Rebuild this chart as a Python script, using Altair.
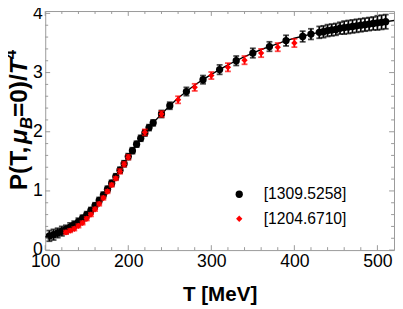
import altair as alt
import pandas as pd

# ---------------- data ----------------
series_names = ["[1309.5258]", "[1204.6710]"]
series_colors = ["black", "#ff0000"]

bl_T = [105, 110, 115, 120, 125, 130, 135, 140, 145, 150, 155, 160, 165, 170, 175,
        180, 185, 190, 195, 200, 205, 210, 215, 220, 225, 230, 240, 250, 270, 290,
        310, 330, 350, 370, 390, 410, 420, 430, 435, 440, 445, 450, 455, 460, 465,
        470, 475, 480, 485, 490, 495, 500, 505, 510]
bl_P = [0.24, 0.26, 0.29, 0.32, 0.35, 0.39, 0.43, 0.48, 0.54, 0.60, 0.67, 0.75, 0.84, 0.93, 1.03,
        1.13, 1.24, 1.35, 1.46, 1.58, 1.68, 1.79, 1.89, 1.98, 2.07, 2.15, 2.30, 2.44, 2.68, 2.88,
        3.05, 3.20, 3.33, 3.44, 3.54, 3.61, 3.65, 3.68, 3.69, 3.71, 3.72, 3.73, 3.75, 3.76, 3.77,
        3.78, 3.79, 3.80, 3.81, 3.82, 3.83, 3.84, 3.85, 3.86]
bl_E = [0.09, 0.09, 0.08, 0.08, 0.07, 0.07, 0.06, 0.06, 0.05, 0.05, 0.05, 0.05, 0.05, 0.05, 0.05,
        0.05, 0.05, 0.05, 0.05, 0.05, 0.05, 0.05, 0.05, 0.05, 0.05, 0.05, 0.06, 0.06, 0.07, 0.07,
        0.08, 0.08, 0.08, 0.08, 0.09, 0.09, 0.09, 0.10, 0.10, 0.10, 0.10, 0.10, 0.10, 0.11, 0.11,
        0.11, 0.11, 0.11, 0.11, 0.11, 0.11, 0.12, 0.12, 0.12]

rd_T = [125, 130, 135, 140, 145, 150, 155, 160, 165, 170, 175, 180, 185, 190, 195,
        200, 220, 240, 260, 280, 300, 320, 340, 360, 380, 400]
rd_P = [0.30, 0.33, 0.36, 0.41, 0.46, 0.53, 0.60, 0.69, 0.78, 0.88, 0.99, 1.10, 1.21, 1.33, 1.45,
        1.57, 1.99, 2.30, 2.54, 2.75, 2.95, 3.09, 3.21, 3.33, 3.43, 3.50]
rd_E = [0.03, 0.03, 0.03, 0.03, 0.03, 0.03, 0.03, 0.03, 0.03, 0.03, 0.03, 0.03, 0.03, 0.04, 0.04,
        0.04, 0.05, 0.05, 0.06, 0.06, 0.06, 0.07, 0.07, 0.07, 0.07, 0.07]

fit_T = [100, 110, 120, 130, 140, 150, 160, 170, 180, 190, 200, 210, 220, 230, 240, 250,
         260, 270, 280, 290, 300, 310, 320, 330, 340, 350, 360, 370, 380, 390, 400,
         420, 440, 460, 480, 500, 520]
fit_P = [0.22, 0.26, 0.31, 0.37, 0.46, 0.59, 0.75, 0.93, 1.13, 1.35, 1.58, 1.79, 1.98, 2.15, 2.30, 2.44,
         2.57, 2.68, 2.79, 2.88, 2.97, 3.05, 3.13, 3.20, 3.27, 3.33, 3.39, 3.44, 3.49, 3.54, 3.58,
         3.65, 3.71, 3.76, 3.80, 3.84, 3.88]

x_major = [100, 200, 300, 400, 500]
x_minor = [120, 140, 160, 180, 220, 240, 260, 280, 320, 340, 360, 380, 420, 440, 460, 480]
y_major = [0, 1, 2, 3, 4]
y_minor = [0.2, 0.4, 0.6, 0.8, 1.2, 1.4, 1.6, 1.8, 2.2, 2.4, 2.6, 2.8, 3.2, 3.4, 3.6, 3.8]

x_title = "T [MeV]"
y_title_pieces = ["P(T,", "\u03bc", "B", "=0)/", "T", "4"]

# ---------------- chart ----------------
W, H = 356, 244
FONT = "Liberation Sans"
FRAME = "#999999"

xs = alt.Scale(domain=[100, 520], nice=False, zero=False)
ys = alt.Scale(domain=[0, 4.04], nice=False, zero=False)
cscale = alt.Scale(domain=series_names, range=series_colors)
sscale = alt.Scale(domain=series_names, range=["circle", "diamond"])
zscale = alt.Scale(domain=series_names, range=[55, 42])

legend = alt.Legend(orient="none", legendX=190, legendY=179, title=None,
                    labelFontSize=16, labelFont=FONT, labelColor="black",
                    labelOffset=17, rowPadding=9, padding=0, symbolSize=40,
                    symbolStrokeWidth=0)

fit_df = pd.DataFrame({"T": fit_T, "P": fit_P})
fit = alt.Chart(fit_df).mark_line(color="black", strokeWidth=1.4).encode(
    x=alt.X("T:Q", scale=xs,
            axis=alt.Axis(values=x_major, format="d", ticks=False, tickSize=0, domain=False, grid=False,
                          labelFontSize=18, labelFont=FONT, labelColor="black", labelPadding=3,
                          labelFlush=False, title=x_title, titleFont=FONT, titleFontSize=21,
                          titleFontWeight="bold", titleColor="black", titleBaseline="alphabetic",
                          titleY=51, titleX=178)),
    y=alt.Y("P:Q", scale=ys,
            axis=alt.Axis(values=y_major, format="d", ticks=False, tickSize=0, domain=False, grid=False,
                          labelFontSize=18, labelFont=FONT, labelColor="black", labelPadding=3,
                          labelFlush=False, title=None)),
)


def series(Ts, Ps, Es, name, colr):
    df = pd.DataFrame({"T": Ts, "P": Ps,
                       "lo": [p - e for p, e in zip(Ps, Es)],
                       "hi": [p + e for p, e in zip(Ps, Es)],
                       "src": [name] * len(Ts)})
    base = alt.Chart(df).encode(x=alt.X("T:Q", scale=xs))
    err = base.mark_rule(strokeWidth=1.8, color=colr).encode(y=alt.Y("lo:Q", scale=ys), y2="hi:Q")
    cap1 = base.mark_tick(orient="horizontal", size=6, thickness=1.8, color=colr).encode(
        y=alt.Y("lo:Q", scale=ys))
    cap2 = base.mark_tick(orient="horizontal", size=6, thickness=1.8, color=colr).encode(
        y=alt.Y("hi:Q", scale=ys))
    dots = base.mark_point(filled=True, opacity=1).encode(
        y=alt.Y("P:Q", scale=ys),
        color=alt.Color("src:N", scale=cscale, legend=legend),
        shape=alt.Shape("src:N", scale=sscale, legend=legend),
        size=alt.Size("src:N", scale=zscale, legend=None),
    )
    return [err, cap1, cap2, dots]


layers = [fit] + series(bl_T, bl_P, bl_E, series_names[0], series_colors[0]) \
    + series(rd_T, rd_P, rd_E, series_names[1], series_colors[1])

# frame ticks (inward)
xmaj_df = pd.DataFrame({"T": x_major})
xmin_df = pd.DataFrame({"T": x_minor})
ymaj_df = pd.DataFrame({"P": y_major})
ymin_df = pd.DataFrame({"P": y_minor})
tk = dict(color=FRAME, strokeWidth=1)
for d, L in ((xmaj_df, 5), (xmin_df, 3)):
    layers.append(alt.Chart(d).mark_rule(**tk).encode(x=alt.X("T:Q", scale=xs), y=alt.value(H), y2=alt.value(H - L)))
    layers.append(alt.Chart(d).mark_rule(**tk).encode(x=alt.X("T:Q", scale=xs), y=alt.value(0), y2=alt.value(L)))
for d, L in ((ymaj_df, 5), (ymin_df, 3)):
    layers.append(alt.Chart(d).mark_rule(**tk).encode(y=alt.Y("P:Q", scale=ys), x=alt.value(0), x2=alt.value(L)))
    layers.append(alt.Chart(d).mark_rule(**tk).encode(y=alt.Y("P:Q", scale=ys), x=alt.value(W), x2=alt.value(W - L)))

# y title, built from pieces (sub/superscripts)
F, FS = 25, 17
piece_style = [
    dict(size=F, style="normal", dx=0),
    dict(size=F, style="italic", dx=0),
    dict(size=FS, style="italic", dx=5),
    dict(size=F, style="normal", dx=0),
    dict(size=F, style="italic", dx=0),
    dict(size=FS, style="normal", dx=-11),
]
widths = [1889, 611, 722, 1751, 611, 556]
ypos = 183.0
for txt, st, w in zip(y_title_pieces, piece_style, widths):
    tdf = pd.DataFrame({"t": [txt]})
    layers.append(alt.Chart(tdf).mark_text(angle=270, align="left", baseline="alphabetic",
                                           font=FONT, fontSize=st["size"], fontWeight="bold",
                                           fontStyle=st["style"], color="black").encode(
        x=alt.value(-19 + st["dx"]), y=alt.value(ypos), text="t:N"))
    ypos -= w * st["size"] / 1000.0

chart = alt.layer(*layers).properties(
    width=W, height=H,
    autosize=alt.AutoSizeParams(type="none"),
    padding={"left": 38, "top": 0, "right": 1, "bottom": 56},
).configure_view(stroke=FRAME, strokeWidth=1).configure_axis(grid=False)

chart.save("out.html", embed_options={"renderer": "svg", "actions": False})
